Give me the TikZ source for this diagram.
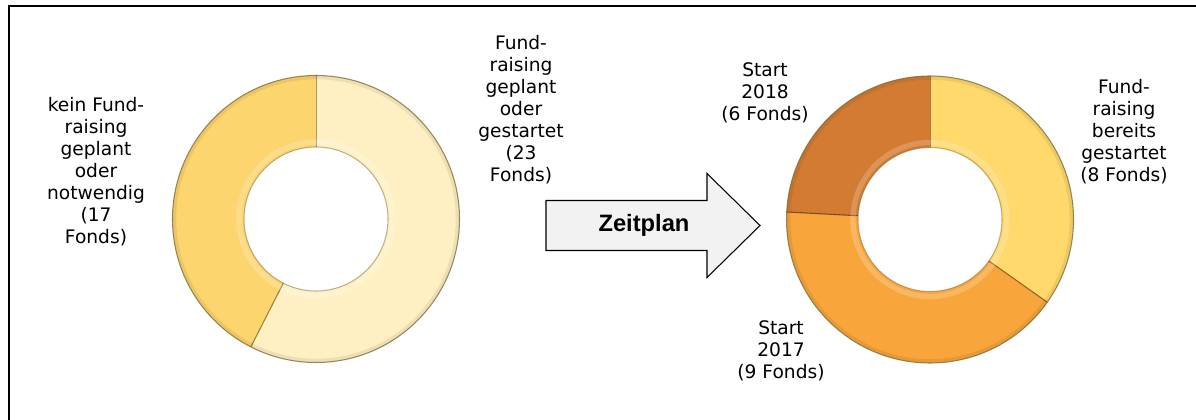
\documentclass[tikz,border=0pt]{standalone}
\usepackage{fontspec}
\setmainfont{DejaVu Sans}
\newfontfamily\arialfont{Liberation Sans}
\usepackage{tikz}
\usetikzlibrary{calc}

\definecolor{cream}{HTML}{FEF0C3}
\definecolor{gold}{HTML}{FDD56E}
\definecolor{sunny}{HTML}{FFD96C}
\definecolor{orangey}{HTML}{F8A53B}
\definecolor{rusty}{HTML}{D37B32}
\definecolor{arrowgrey}{HTML}{F2F2F2}

\newcommand{\donutpart}[5]{%
  \fill[#4] ($(#1)+(#2:143.5)$) arc[start angle=#2, end angle=#3, radius=143.5]
    -- ($(#1)+(#3:72)$) arc[start angle=#3, end angle=#2, radius=72] -- cycle;
  \draw[#5, line width=0.6pt] ($(#1)+(#2:72)$) -- ($(#1)+(#2:143.5)$);
}

\begin{document}
\begin{tikzpicture}[x=0.02cm, y=0.02cm,
		label text/.style={align=center, inner sep=0pt, font=\fontsize{10.6}{12.5}\selectfont},
		ring edge/.style={line width=0.6pt}]
		\useasboundingbox (0,0) rectangle (1196,419);
		\draw[line width=1.2pt] (9,-2) -- (9,413) -- (1198,413);
		
		\coordinate (left) at (316,200);
		\coordinate (right) at (930,199.5);
		
		\foreach \a/\b/\col in {90/-117/cream, -117/-270/gold}
		\donutpart{left}{\a}{\b}{\col}{\col!60!black};
		\foreach \a/\b/\col in {90/-35.2/sunny, -35.2/-183/orangey, -183/-270/rusty}
		\donutpart{right}{\a}{\b}{\col}{\col!60!black};
		
		\foreach \c in {left, right}{
			\draw[white, opacity=.2, line width=3pt] (\c) circle[radius=77];
			\draw[black, opacity=.07, line width=2pt] (\c) circle[radius=141.5];
			\draw[gold!50!black, opacity=.8, ring edge] (\c) circle[radius=143.5];
			\draw[gold!50!black, opacity=.5, ring edge] (\c) circle[radius=72];
		}
		
		\draw[fill=arrowgrey, line width=0.6pt] (546,218.5) -- (707,218.5) -- (707,245.5)
		-- (760,193.5) -- (707,141.5) -- (707,168.5) -- (546,168.5) -- cycle;
		\node[font=\arialfont\bfseries\fontsize{13.5}{16}\selectfont] (zeit) at (644,194) {Zeitplan};
		
		\node[label text] (lblnone) at (96,247) {kein Fund-\\raising\\geplant\\oder\\notwendig\\(17\\Fonds)};
		\node[label text] (lblplan) at (521,309) {Fund-\\raising\\geplant\\oder\\gestartet\\(23\\Fonds)};
		\node[label text] (lbl18) at (765,326) {Start\\2018\\(6 Fonds)};
		\node[label text] (lblrun) at (1124,287.5) {Fund-\\raising\\bereits\\gestartet\\(8 Fonds)};
		\node[label text] (lbl17) at (781,68) {Start\\2017\\(9 Fonds)};
		
		\end{tikzpicture}
\end{document}
